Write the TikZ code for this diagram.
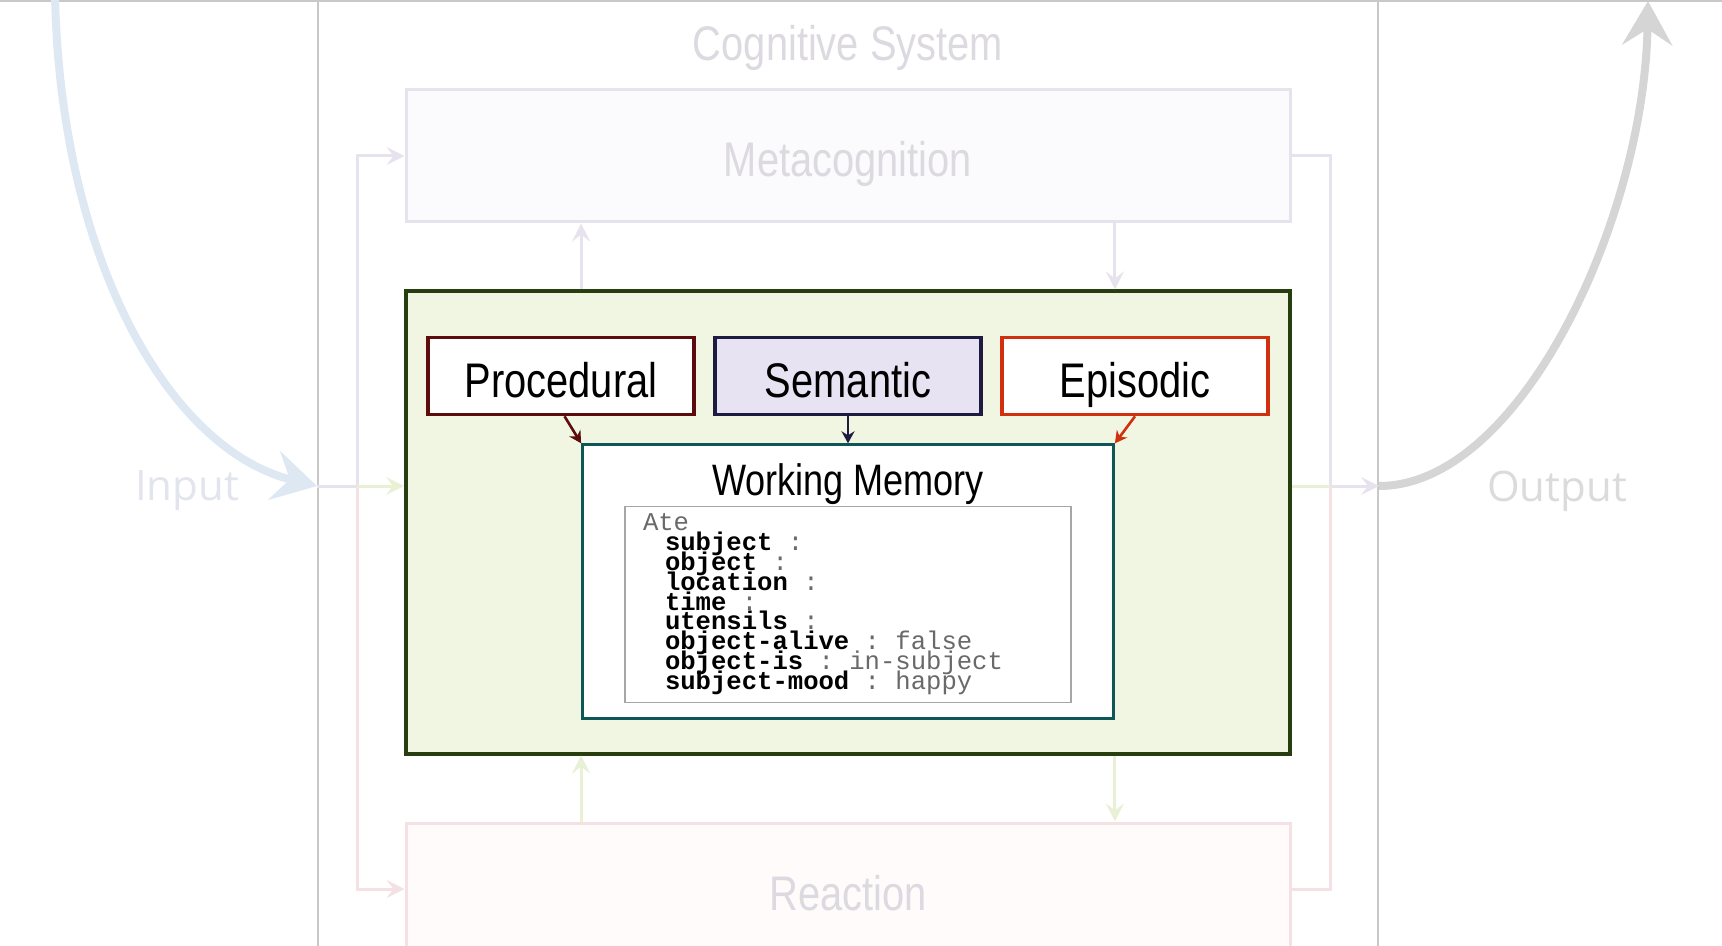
\documentclass[tikz,border=0pt]{standalone}
\usepackage{fontspec}
\setmonofont{Liberation Mono}
\newfontfamily\labelfont[FakeStretch=0.82]{Liberation Sans}
\newfontfamily\iofont{Open Sans}
\newcommand\codefont{\ttfamily\fontsize{12.8}{9.9}\selectfont\lineskiplimit=-100pt\relax}
\newcommand\msp{\hspace*{0.6em}}
\usetikzlibrary{arrows.meta, positioning, calc}
\definecolor{SysGray}{RGB}{200,200,200}
\definecolor{FadeText}{RGB}{220,218,224}
\definecolor{MetaFill}{RGB}{251,250,253}
\definecolor{MetaLine}{RGB}{230,227,239}
\definecolor{ReactFill}{RGB}{255,251,251}
\definecolor{ReactLine}{RGB}{245,225,228}
\definecolor{LtmFill}{RGB}{240,246,226}
\definecolor{LtmLine}{RGB}{40,62,14}
\definecolor{FadeGreen}{RGB}{232,240,214}
\definecolor{ProcLine}{RGB}{92,12,12}
\definecolor{SemFill}{RGB}{232,227,242}
\definecolor{SemLine}{RGB}{30,27,64}
\definecolor{EpiLine}{RGB}{208,48,14}
\definecolor{WmLine}{RGB}{15,86,89}
\definecolor{InBlue}{RGB}{221,232,243}
\definecolor{InText}{RGB}{226,228,238}
\definecolor{OutGray}{RGB}{213,213,213}
\definecolor{OutText}{RGB}{219,219,219}
\definecolor{CodeGray}{RGB}{105,105,105}

\begin{document}
\begin{tikzpicture}[x=1pt, y=-1pt,
  bigbox/.style={draw=MetaLine, fill=MetaFill, line width=1.5pt, minimum width=442pt, minimum height=66pt, text height=21pt, text depth=0pt, text=FadeText, font=\labelfont\fontsize{24.3}{28}\selectfont},
  membox/.style={draw, fill=white, line width=1.8pt, minimum width=133pt, minimum height=38.5pt, text height=21pt, text depth=0pt, text=black, font=\labelfont\fontsize{24.3}{28}\selectfont},
  fadeline/.style={line width=1.5pt},
  fadetip/.style={-{Stealth[length=9pt,width=9pt,inset=3.5pt]}},
  bigtip/.style={line width=4pt, -{Stealth[length=22pt,width=25pt,inset=8pt]}},
  memtip/.style={-{Stealth[length=6pt,width=6.5pt,inset=2pt]}, line width=1.3pt}]
\useasboundingbox (0,0) rectangle (861,473);
\clip (0,0) rectangle (861,473);
\draw[SysGray, line width=1pt] (0,0.6) -- (861,0.6);
\node[draw=SysGray, line width=1pt, minimum width=530pt, minimum height=520pt] (sys) at (424,260) {};
\node[text=FadeText, font=\labelfont\fontsize{24.3}{28}\selectfont] (sysT) at (424,24) {Cognitive System};

\node[bigbox] (meta) at (424,78) {Metacognition};
\node[bigbox, draw=LtmLine, fill=LtmFill, line width=2pt, minimum height=231pt, below=33pt of meta] (ltm) {};
\node[bigbox, draw=ReactLine, fill=ReactFill, below=33pt of ltm] (react) {Reaction};

\node[membox, draw=SemLine, fill=SemFill] (sem) at (424,188) {Semantic};
\node[membox, draw=ProcLine, left=8.7pt of sem] (proc) {Procedural};
\node[membox, draw=EpiLine, right=8.7pt of sem] (epi) {Episodic};
\node[draw=WmLine, fill=white, line width=1.4pt, minimum width=265.5pt, minimum height=137pt, below=13.5pt of sem] (wm) {};
\node[font=\labelfont\fontsize{22}{26}\selectfont, below=6.5pt of wm.north] (wmT) {Working Memory};
\node[draw=gray!70, line width=0.6pt, fill=white, minimum width=223pt, minimum height=98pt, text width=205pt, inner xsep=9pt, align=left, font=\codefont] (code) at ($(wm.north)+(0,80.5)$) {%
\textcolor{CodeGray}{Ate}\\
\hspace*{11pt}\textbf{subject}\textcolor{CodeGray}{\msp:}\\
\hspace*{11pt}\textbf{object}\textcolor{CodeGray}{\msp:}\\
\hspace*{11pt}\textbf{location}\textcolor{CodeGray}{\msp:}\\
\hspace*{11pt}\textbf{time}\textcolor{CodeGray}{\msp:}\\
\hspace*{11pt}\textbf{utensils}\textcolor{CodeGray}{\msp:}\\
\hspace*{11pt}\textbf{object-alive}\textcolor{CodeGray}{\msp:\msp false}\\
\hspace*{11pt}\textbf{object-is}\textcolor{CodeGray}{\msp:\msp in-subject}\\
\hspace*{11pt}\textbf{subject-mood}\textcolor{CodeGray}{\msp:\msp happy}};

\draw[memtip, ProcLine] (proc.-85) -- (wm.north west);
\draw[memtip, SemLine] (sem.south) -- (wm.north);
\draw[memtip, EpiLine] (epi.south) -- (wm.north east);

\coordinate (busL) at (178.5,243);
\coordinate (busR) at (665,243);
\draw[fadeline, MetaLine] (busL -| sys.west) -- (busL);
\draw[fadeline, fadetip, MetaLine] (busL) |- (meta.west);
\draw[fadeline, fadetip, ReactLine] (busL) |- (react.west);
\draw[fadeline, fadetip, FadeGreen] (busL) -- (busL -| ltm.west);
\draw[fadeline, MetaLine] (meta.east) -| (busR);
\draw[fadeline, ReactLine] (react.east) -| (busR);
\draw[fadeline, FadeGreen] (busR -| ltm.east) -- (busR);
\draw[fadeline, fadetip, MetaLine] (busR) -- (busR -| sys.east);
\draw[fadeline, fadetip, MetaLine] (ltm.north -| wm.west) -- (meta.south -| wm.west);
\draw[fadeline, fadetip, MetaLine] (meta.south -| wm.east) -- (ltm.north -| wm.east);
\draw[fadeline, fadetip, FadeGreen] (react.north -| wm.west) -- (ltm.south -| wm.west);
\draw[fadeline, fadetip, FadeGreen] (ltm.south -| wm.east) -- (react.north -| wm.east);

\coordinate (inTop) at (27.5,-3);
\coordinate (outTop) at (824,0.5);
\draw[bigtip, InBlue] (inTop) .. controls (30,130) and (85,225) .. (busL -| sys.west);
\draw[bigtip, OutGray] (busR -| sys.east) .. controls (760,243) and (822,110) .. (outTop);
\node[text=InText, font=\iofont\fontsize{21}{24}\selectfont] (inT) at (93.5,245.5) {Input};
\node[text=OutText, font=\iofont\fontsize{21}{24}\selectfont] (outT) at (778.5,245.5) {Output};
\end{tikzpicture}
\end{document}
